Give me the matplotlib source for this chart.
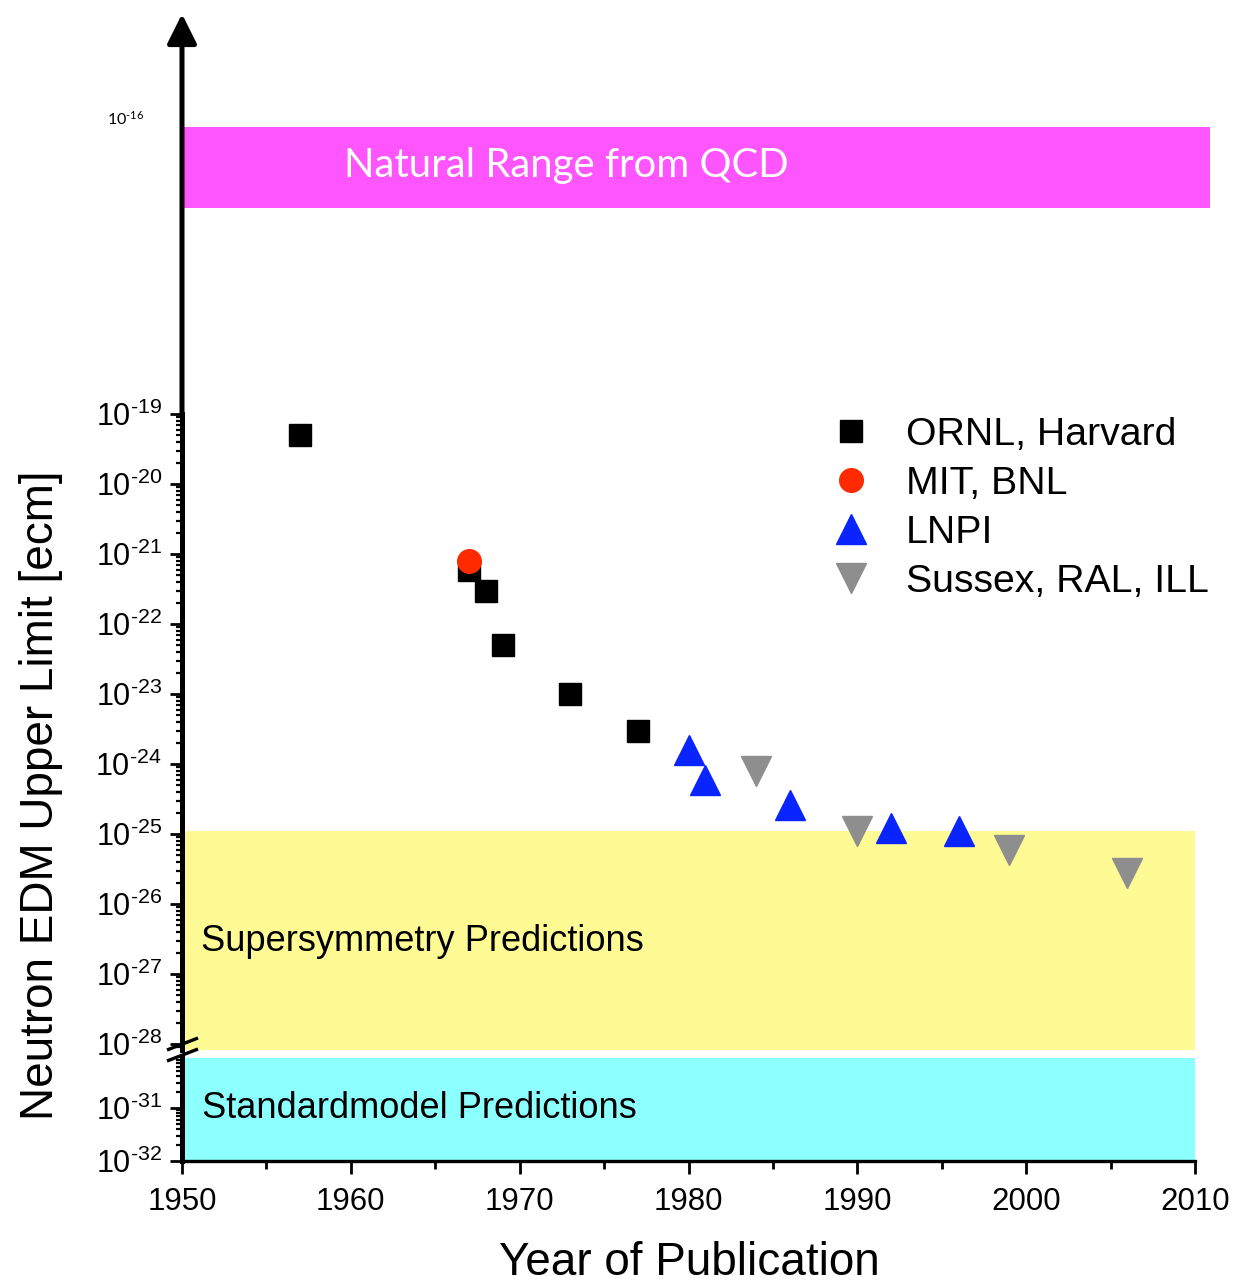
import matplotlib
matplotlib.use('Agg')
import matplotlib.pyplot as plt
import numpy as np
from matplotlib.ticker import LogLocator, FixedLocator, FuncFormatter, MultipleLocator, NullLocator

plt.rcParams['font.family'] = ['Liberation Sans', 'DejaVu Sans']

# ---------------- data ----------------
ornl_years = [1957, 1967, 1968, 1969, 1973, 1977]
ornl_limits = [5e-20, 6e-22, 3e-22, 5e-23, 1e-23, 3e-24]
mit_years = [1967]
mit_limits = [8e-22]
lnpi_years = [1980, 1981, 1986, 1992, 1996]
lnpi_limits = [1.6e-24, 6e-25, 2.6e-25, 1.2e-25, 1.1e-25]
sussex_years = [1984, 1990, 1999, 2006]
sussex_limits = [8e-25, 1.1e-25, 6e-26, 2.8e-26]

series_labels = ['ORNL, Harvard', 'MIT, BNL', 'LNPI', 'Sussex, RAL, ILL']

qcd_band = (1.2e-17, 8e-17)
susy_band = (8e-29, 1.1e-25)
sm_band = (1e-32, 1e-30)

year_ticks = [1950, 1960, 1970, 1980, 1990, 2000, 2010]
main_decades = list(range(-28, -18))
low_decades = [-32, -31]
top_decades = [-16]

# ---------------- layout ----------------
W, H = 1236, 1283
fig = plt.figure(figsize=(W / 100, H / 100), dpi=100)


def box(l, t, r, b):
    return [l / W, 1 - b / H, (r - l) / W, (b - t) / H]


px_per_decade_main = 70
px_per_decade_low = 53
px_per_decade_top = 99
yr_per_px = 60 / (1195 - 182)

ax = fig.add_axes(box(182, 414, 1195, 1050))
axb = fig.add_axes(box(182, 1058, 1195, 1161))
axt = fig.add_axes(box(182, 14, 1210, 414))
ax.set_zorder(5)

for a in (ax, axb, axt):
    a.patch.set_alpha(0)
    a.spines['top'].set_visible(False)
    a.spines['right'].set_visible(False)
    a.set_yscale('log')


def exp_label(v, p):
    e = int(round(np.log10(v)))
    sign = '\u2010' if e < 0 else ''
    return r'$\mathregular{10^{%s%d}}$' % (sign, abs(e))


fmt = FuncFormatter(exp_label)

# ---------------- main axes ----------------
ax.set_xlim(1950, 2010)
ax.set_ylim(10 ** (-19 - 636 / px_per_decade_main), 1e-19)
ax.axhspan(*susy_band, color='#FFFB94', lw=0, zorder=0)

ms_sq, ms_c, ms_t = 16.5, 17, 21
h1, = ax.plot(ornl_years, ornl_limits, ls='none', marker='s', ms=ms_sq, color='black', zorder=3, clip_on=False)
h2, = ax.plot(mit_years, mit_limits, ls='none', marker='o', ms=ms_c, color='#FF2A00', zorder=4, clip_on=False)
h3, = ax.plot(lnpi_years, lnpi_limits, ls='none', marker='^', ms=ms_t, color='#0A24FF', zorder=3, clip_on=False)
h4, = ax.plot(sussex_years, sussex_limits, ls='none', marker='v', ms=ms_t, color='#8E8E8E', zorder=3, clip_on=False)

ax.text(1951.1, 10 ** -26.53, 'Supersymmetry Predictions', fontsize=26.1, va='center', ha='left')

ax.spines['bottom'].set_visible(False)
ax.spines['left'].set_linewidth(3.6)
ax.xaxis.set_visible(False)
ax.yaxis.set_major_locator(FixedLocator([10.0 ** e for e in main_decades]))
ax.yaxis.set_minor_locator(LogLocator(base=10, subs=np.arange(2, 10), numticks=100))
ax.yaxis.set_major_formatter(fmt)
ax.tick_params(axis='y', which='major', direction='out', length=8.5, width=2, labelsize=22, pad=6)
ax.tick_params(axis='y', which='minor', direction='out', length=4.5, width=1.6)

# axis-break marks (axes-fraction offsets around the bottom of the main panel)
ah = 636.0
aw = 1013.0
for cy in (1044, 1055):
    yc = (1050 - cy) / ah
    ax.plot([-15 / aw, 16 / aw], [yc - 6 / ah, yc + 6 / ah], transform=ax.transAxes,
            color='black', lw=2.4, clip_on=False, zorder=6, solid_capstyle='butt')

# ---------------- lower axes ----------------
axb.set_xlim(1950, 2010)
axb.set_ylim(1e-32, 10 ** (-32 + 103 / px_per_decade_low))
axb.axhspan(*sm_band, color='#8CFFFF', lw=0, zorder=0)
axb.text(1951.2, 1e-31, 'Standardmodel Predictions', fontsize=26.1, va='center', ha='left')
axb.spines['left'].set_linewidth(3.6)
axb.spines['bottom'].set_linewidth(2.4)
axb.yaxis.set_major_locator(FixedLocator([10.0 ** e for e in low_decades]))
axb.yaxis.set_minor_locator(LogLocator(base=10, subs=np.arange(2, 10), numticks=100))
axb.yaxis.set_major_formatter(fmt)
axb.tick_params(axis='y', which='major', direction='out', length=8.5, width=2, labelsize=22, pad=6)
axb.tick_params(axis='y', which='minor', direction='out', length=4.5, width=1.6)
axb.set_xticks(year_ticks)
axb.xaxis.set_minor_locator(MultipleLocator(5))
axb.tick_params(axis='x', which='major', direction='out', length=9.5, width=2, labelsize=22.5, pad=9)
axb.tick_params(axis='x', which='minor', direction='out', length=5.5, width=2)

# ---------------- top axes ----------------
axt.set_xlim(1950, 1950 + (1210 - 182) * yr_per_px)
axt.set_ylim(1e-19, 10 ** (-19 + 400 / px_per_decade_top))
axt.axhspan(*qcd_band, color='#FF55FF', lw=0, zorder=0)
axt.text(1959.6, 10 ** -16.485, 'Natural Range from QCD', fontsize=28.8, color='white',
         va='center', ha='left', family='Lato')
for s in ('left', 'bottom'):
    axt.spines[s].set_visible(False)
axt.xaxis.set_visible(False)
axt.yaxis.set_major_locator(FixedLocator([10.0 ** e for e in top_decades]))
axt.yaxis.set_minor_locator(NullLocator())
axt.yaxis.set_major_formatter(fmt)
axt.tick_params(axis='y', which='major', length=0, labelsize=11.5, pad=27)
for lab in axt.get_yticklabels():
    lab.set_family('Lato')
axt.annotate('', xy=(0, 1), xytext=(0, 0), xycoords='axes fraction',
             arrowprops=dict(arrowstyle='-|>', lw=3.6, color='black', mutation_scale=45,
                             shrinkA=0, shrinkB=0), annotation_clip=False)

# ---------------- legend & labels ----------------
fig.legend([h1, h2, h3, h4], series_labels, loc='upper left',
           bbox_to_anchor=(831 / W, 1 - 417 / H), frameon=False, fontsize=28.3,
           handlelength=1.0, handletextpad=0.9, labelspacing=0.33, borderpad=0, borderaxespad=0)

fig.text(41 / W, 1 - 795 / H, 'Neutron EDM Upper Limit [ecm]', rotation=90, ha='center', va='center', fontsize=33)
fig.text(689 / W, 1 - 1263 / H, 'Year of Publication', ha='center', va='center', fontsize=33)

fig.savefig('out.png', dpi=100)
